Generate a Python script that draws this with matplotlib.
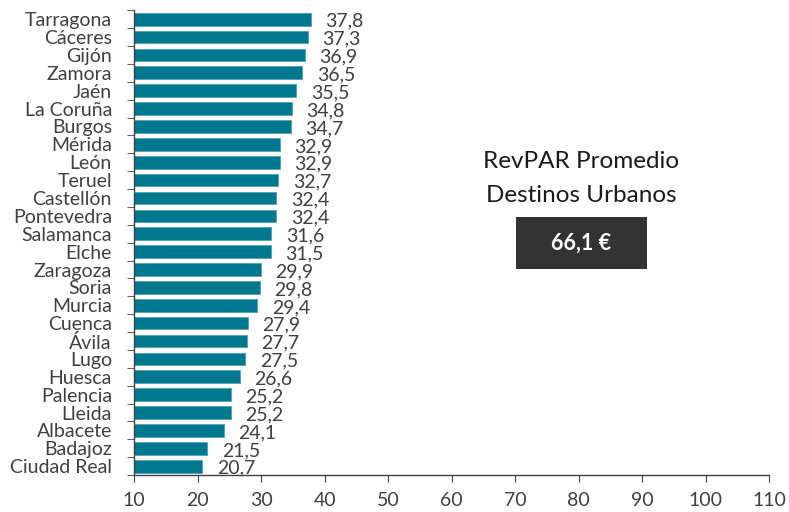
import matplotlib
matplotlib.use('Agg')
import matplotlib.pyplot as plt
import numpy as np

plt.rcParams['font.family'] = ['Lato', 'DejaVu Sans']

ciudades = ["Tarragona", "Cáceres", "Gijón", "Zamora", "Jaén", "La Coruña", "Burgos",
            "Mérida", "León", "Teruel", "Castellón", "Pontevedra", "Salamanca", "Elche",
            "Zaragoza", "Soria", "Murcia", "Cuenca", "Ávila", "Lugo", "Huesca", "Palencia",
            "Lleida", "Albacete", "Badajoz", "Ciudad Real"]
revpar = [37.8, 37.3, 36.9, 36.5, 35.5, 34.8, 34.7, 32.9, 32.9, 32.7, 32.4, 32.4, 31.6,
          31.5, 29.9, 29.8, 29.4, 27.9, 27.7, 27.5, 26.6, 25.2, 25.2, 24.1, 21.5, 20.7]
promedio = "66,1 €"

BAR = '#00788f'
TXT = '#404040'

fig = plt.figure(figsize=(7.89, 5.12), dpi=100)
ax = fig.add_axes([0.170, 0.072, 0.805, 0.908])

y = np.arange(len(ciudades))
ax.barh(y, revpar, height=0.71, color=BAR, edgecolor='#4fa3b5', linewidth=0.6, left=0)
ax.set_xlim(10, 110)
ax.set_ylim(len(ciudades) - 0.5, -0.5)

for yi, v in zip(y, revpar):
    ax.text(v + 2.3, yi + 0.12, f"{v:.1f}".replace('.', ','), va='center', ha='left',
            fontsize=14, color=TXT)

ax.set_yticks(y)
ax.set_yticklabels(ciudades, fontsize=14, color=TXT)
ax.tick_params(axis='y', which='major', length=0, pad=16)
ax.set_yticks(np.arange(len(ciudades) + 1) - 0.5, minor=True)
ax.tick_params(axis='y', which='minor', length=5, direction='out', color=TXT)

ax.set_xticks(np.arange(10, 111, 10))
ax.tick_params(axis='x', length=5, direction='out', color=TXT, labelsize=14,
               labelcolor=TXT, pad=7)

for s in ['top', 'right']:
    ax.spines[s].set_visible(False)
for s in ['left', 'bottom']:
    ax.spines[s].set_color(TXT)
    ax.spines[s].set_linewidth(1.0)

fig.text(581 / 789, 1 - 162 / 512, "RevPAR Promedio", ha='center', va='center',
         fontsize=17.5, color='#1a1a1a')
fig.text(581 / 789, 1 - 195 / 512, "Destinos Urbanos", ha='center', va='center',
         fontsize=17.5, color='#1a1a1a')
box = plt.Rectangle((516 / 789, 1 - 269 / 512), 131 / 789, 52 / 512,
                    transform=fig.transFigure, facecolor='#333333', edgecolor='none')
fig.patches.append(box)
fig.text(581 / 789, 1 - 243 / 512, promedio, ha='center', va='center',
         fontsize=15.5, color='white', fontweight='bold')

fig.savefig('out.png', dpi=100)
